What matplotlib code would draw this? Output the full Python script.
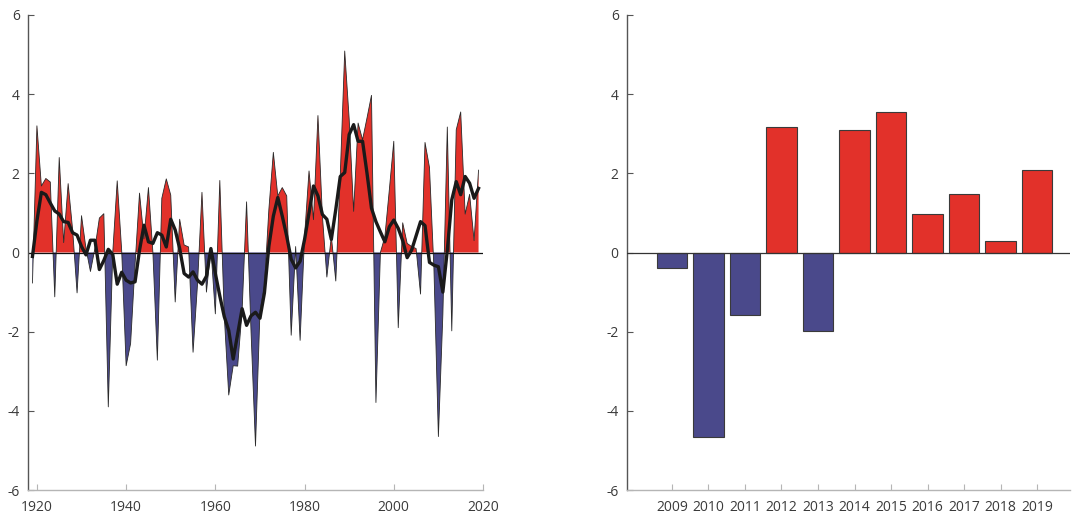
import matplotlib
matplotlib.use("Agg")
import matplotlib.pyplot as plt
import numpy as np

plt.rcParams['font.family'] = ['Open Sans', 'DejaVu Sans']

# ---------------- data ----------------
years = list(range(1919, 2020))
index_values = [
    -0.77, 3.20, 1.68, 1.87, 1.78, -1.12, 2.40, 0.25, 1.74, 0.58,   # 1919-1928
    -1.02, 0.93, 0.10, -0.48, 0.10, 0.87, 0.98, -3.90, 0.00, 1.81,  # 1929-1938
    0.05, -2.86, -2.30, -0.30, 1.50, 0.35, 1.64, 0.00, -2.72, 1.37, # 1939-1948
    1.86, 1.45, -1.25, 0.84, 0.19, 0.14, -2.52, -0.80, 1.52, -1.00, # 1949-1958
    0.10, -1.55, 1.82, -1.60, -3.60, -2.86, -2.87, -1.46, 1.28, -2.00, # 1959-1968
    -4.89, -1.50, -0.85, 1.09, 2.53, 1.43, 1.64, 1.43, -2.09, 0.15, # 1969-1978
    -2.22, 0.41, 2.06, 0.83, 3.46, 0.92, -0.62, 0.41, -0.72, 1.94,  # 1979-1988
    5.09, 3.37, 1.04, 3.27, 2.85, 3.40, 3.97, -3.79, 0.00, 0.40,    # 1989-1998
    1.58, 2.81, -1.90, 0.75, 0.23, 0.15, 0.10, -1.05, 2.78, 2.15,   # 1999-2008
    -0.40, -4.65, -1.57, 3.17, -1.98, 3.10, 3.55, 0.97, 1.47, 0.30, # 2009-2018
    2.08,                                                            # 2019
]
smoothed_values = [
    -0.10, 0.80, 1.52, 1.46, 1.25, 1.05, 0.97, 0.78, 0.76, 0.50,    # 1919-1928
    0.44, 0.15, -0.06, 0.31, 0.31, -0.43, -0.20, 0.08, -0.05, -0.80, # 1929-1938
    -0.50, -0.70, -0.77, -0.74, 0.06, 0.69, 0.27, 0.23, 0.50, 0.44, # 1939-1948
    0.14, 0.84, 0.57, 0.10, -0.53, -0.62, -0.49, -0.70, -0.80, -0.60, # 1949-1958
    0.10, -0.53, -1.10, -1.62, -1.97, -2.69, -2.06, -1.42, -1.84, -1.60, # 1959-1968
    -1.51, -1.66, -1.02, 0.16, 0.92, 1.39, 0.92, 0.41, -0.17, -0.39, # 1969-1978
    -0.22, 0.33, 1.00, 1.68, 1.43, 0.96, 0.84, 0.33, 1.09, 1.92,    # 1979-1988
    2.02, 2.98, 3.23, 2.81, 2.81, 2.00, 1.12, 0.78, 0.52, 0.27,     # 1989-1998
    0.65, 0.82, 0.61, 0.30, -0.13, 0.06, 0.42, 0.78, 0.68, -0.25,   # 1999-2008
    -0.32, -0.36, -1.00, 0.06, 1.33, 1.79, 1.46, 1.92, 1.75, 1.37,  # 2009-2018
    1.62,                                                            # 2019
]
recent_years = [2009, 2010, 2011, 2012, 2013, 2014, 2015, 2016, 2017, 2018, 2019]
recent_values = [-0.40, -4.65, -1.57, 3.17, -1.98, 3.10, 3.55, 0.97, 1.47, 0.30, 2.08]

y_ticks = [-6, -4, -2, 0, 2, 4, 6]
y_tick_labels = ['-6', '-4', '-2', '0', '2', '4', '6']
x_ticks_left = [1920, 1940, 1960, 1980, 2000, 2020]

RED = '#E2312A'
BLUE = '#4A498B'
TEXT = '#3a3a3a'

W, H = 1072, 513
fig = plt.figure(figsize=(W / 100, H / 100), dpi=100)
fig.patch.set_facecolor('white')


def style_axes(ax):
    ax.spines['top'].set_visible(False)
    ax.spines['right'].set_visible(False)
    ax.spines['left'].set_color('#555555')
    ax.spines['left'].set_linewidth(1.0)
    ax.spines['bottom'].set_color('#b5b5b5')
    ax.spines['bottom'].set_linewidth(1.0)
    ax.set_ylim(-6, 6)
    ax.set_yticks(y_ticks)
    ax.set_yticklabels(y_tick_labels)
    ax.tick_params(axis='y', direction='in', length=4, width=0.8,
                   color='#555555', labelcolor=TEXT, labelsize=10, pad=6)
    ax.tick_params(axis='x', direction='in', length=4, width=0.8,
                   color='#b5b5b5', labelcolor=TEXT, labelsize=10, pad=7)


# ---------------- left panel ----------------
axL = fig.add_axes([28 / W, (H - 490) / H, (483 - 28) / W, (490 - 15) / H])
style_axes(axL)
yv = np.array(years, dtype=float)
iv = np.array(index_values)
axL.fill_between(yv, iv, 0, where=iv >= 0, interpolate=True,
                 color=RED, linewidth=0)
axL.fill_between(yv, iv, 0, where=iv <= 0, interpolate=True,
                 color=BLUE, linewidth=0)
axL.plot(yv, iv, color='#2a2a2a', linewidth=0.6)
axL.axhline(0, color='#111111', linewidth=0.9, xmin=0, xmax=1)
axL.plot(yv, smoothed_values, color='#1a1a1a', linewidth=2.4,
         solid_joinstyle='round')
axL.set_xlim(1918, 2020)
axL.set_xticks(x_ticks_left)
axL.set_xticklabels([str(t) for t in x_ticks_left])

# ---------------- right panel ----------------
axR = fig.add_axes([627 / W, (H - 490) / H, (1070 - 627) / W, (490 - 15) / H])
style_axes(axR)
colors = [RED if v >= 0 else BLUE for v in recent_values]
axR.bar(recent_years, recent_values, width=0.84, color=colors,
        edgecolor='#3a3a3a', linewidth=0.8, zorder=2)
axR.axhline(0, color='#333333', linewidth=0.9, zorder=3)
axR.set_xlim(2007.77, 2019.9)
axR.set_xticks(recent_years)
axR.set_xticklabels([str(t) for t in recent_years])

fig.savefig('out.png', dpi=100, facecolor='white')
